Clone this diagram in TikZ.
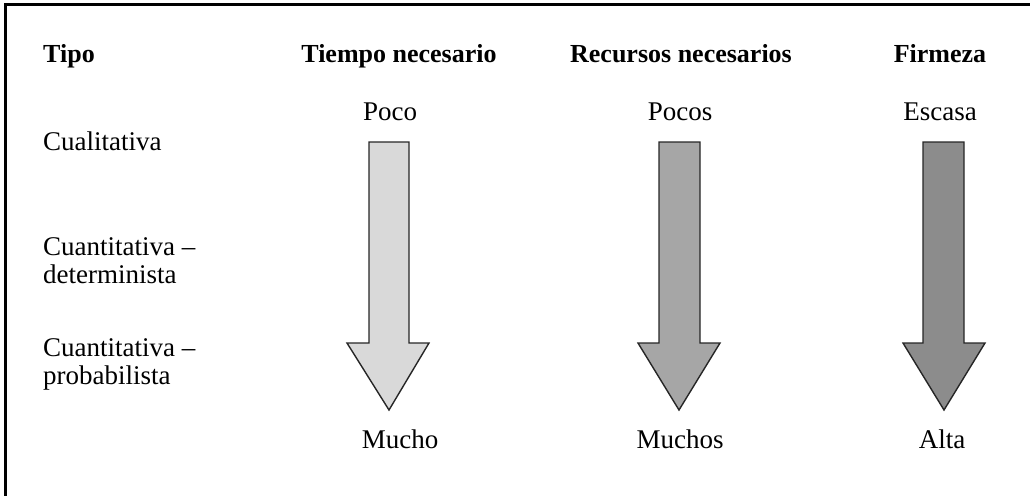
\documentclass[tikz,border=0pt]{standalone}
\usepackage{fontspec}
\setmainfont{Liberation Serif}
\begin{document}
\begin{tikzpicture}[x=1pt,y=-1pt,
  head/.style={font=\fontsize{26}{30}\selectfont\bfseries, inner sep=0pt, anchor=base},
  lbl/.style={font=\fontsize{27}{28}\selectfont, inner sep=0pt, anchor=base},
  rowlbl/.style={font=\fontsize{27}{28}\selectfont, inner sep=0pt, anchor=base west, align=left},
  blockarrow/.style={draw=black!85, line width=1.4pt, line join=miter}]
\useasboundingbox (0,0) rectangle (1030,495);
\begin{scope}
\clip (0,0) rectangle (1030,495);
\draw[line width=3pt] (5,540) -- (5,5) -- (1060,5);
\end{scope}
% headers
\node[head, anchor=base west] (tipo) at (43,63) {Tipo};
\node[head] (tiempo) at (399,63) {Tiempo necesario};
\node[head] (recursos) at (681,63) {Recursos necesarios};
\node[head] (firmeza) at (940,63) {Firmeza};
% row labels
\node[rowlbl] (cual) at (43,150) {Cualitativa};
\node[rowlbl] (det) at (43,283) {Cuantitativa –\\determinista};
\node[rowlbl] (prob) at (43,384) {Cuantitativa –\\probabilista};
% top labels
\node[lbl] (poco) at (390,120) {Poco};
\node[lbl] (pocos) at (680,120) {Pocos};
\node[lbl] (escasa) at (940,120) {Escasa};
% bottom labels
\node[lbl] (mucho) at (400,448) {Mucho};
\node[lbl] (muchos) at (680,448) {Muchos};
\node[lbl] (alta) at (942,448) {Alta};
% arrows
\draw[blockarrow, fill={rgb,255:red,217;green,217;blue,217}]
  (369,142) -- (409,142) -- (409,343) -- (429,343) -- (389,410) -- (347,343) -- (369,343) -- cycle;
\draw[blockarrow, fill={rgb,255:red,166;green,166;blue,166}]
  (659,142) -- (700,142) -- (700,343) -- (720,343) -- (679,410) -- (638,343) -- (659,343) -- cycle;
\draw[blockarrow, fill={rgb,255:red,140;green,140;blue,140}]
  (923,142) -- (964,142) -- (964,343) -- (985,343) -- (944,410) -- (903,343) -- (923,343) -- cycle;
\end{tikzpicture}
\end{document}
